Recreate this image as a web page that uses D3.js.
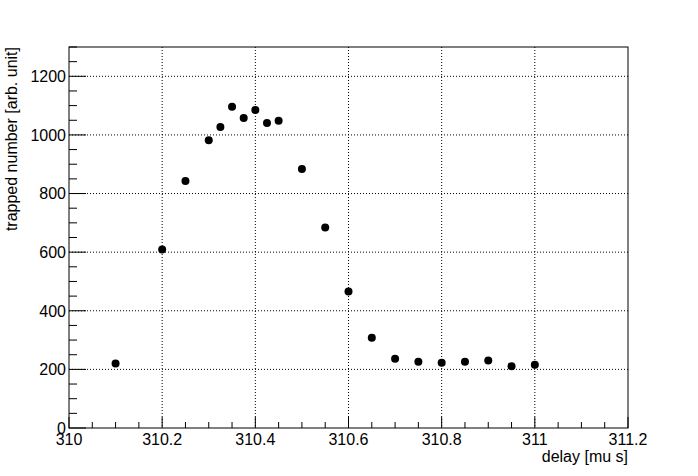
<!DOCTYPE html>
<html>
<head>
<meta charset="utf-8">
<script src="https://cdn.jsdelivr.net/npm/d3@7"></script>
<style>
  html, body { margin: 0; padding: 0; background: #fff; }
  svg text { font-family: "Liberation Sans", Arial, Helvetica, sans-serif; fill: #000; }
</style>
</head>
<body>
<div id="chart"></div>
<script>
// delay [mu s]
const delays = [310.1, 310.2, 310.25, 310.3, 310.325, 310.35, 310.375, 310.4, 310.425, 310.45,
  310.5, 310.55, 310.6, 310.65, 310.7, 310.75, 310.8, 310.85, 310.9, 310.95, 311.0]
// trapped number [arb. unit]
const trapped = [220, 609, 843, 982, 1027, 1096, 1058, 1085, 1041, 1048,
  884, 684, 466, 308, 236, 226, 223, 226, 230, 211, 216]

const xTicks = [310, 310.2, 310.4, 310.6, 310.8, 311, 311.2]
const yTicks = [0, 200, 400, 600, 800, 1000, 1200]

const width = 698
const height = 476
const margin = { top: 47, right: 70, bottom: 48, left: 69 }
const innerW = width - margin.left - margin.right
const innerH = height - margin.top - margin.bottom

const x = d3.scaleLinear().domain([310, 311.2]).range([0, innerW])
const y = d3.scaleLinear().domain([0, 1300]).range([innerH, 0])

const svg = d3.select("#chart")
  .append("svg")
  .attr("width", width)
  .attr("height", height)

const g = svg.append("g")
  .attr("transform", `translate(${margin.left},${margin.top})`)

// Grid
g.append("g")
  .selectAll("line")
  .data(xTicks.filter(d => d > 310 && d < 311.2))
  .join("line")
  .attr("x1", d => x(d)).attr("x2", d => x(d))
  .attr("y1", 0).attr("y2", innerH)
  .attr("stroke", "#000")
  .attr("stroke-dasharray", "1,2")

g.append("g")
  .selectAll("line")
  .data(yTicks.filter(d => d > 0))
  .join("line")
  .attr("x1", 0).attr("x2", innerW)
  .attr("y1", d => y(d)).attr("y2", d => y(d))
  .attr("stroke", "#000")
  .attr("stroke-dasharray", "1,2")

// Frame
g.append("rect")
  .attr("width", innerW)
  .attr("height", innerH)
  .attr("fill", "none")
  .attr("stroke", "#000")
  .attr("stroke-width", 1)

// X axis ticks (minor every 0.05, major every 0.2)
const xMinor = d3.range(0, 25).map(i => 310 + i * 0.05)
g.append("g")
  .selectAll("line")
  .data(xMinor)
  .join("line")
  .attr("x1", d => x(d)).attr("x2", d => x(d))
  .attr("y1", innerH)
  .attr("y2", (d, i) => innerH - (i % 4 === 0 ? 11 : 6))
  .attr("stroke", "#000")

g.append("g")
  .selectAll("text")
  .data(xTicks)
  .join("text")
  .attr("x", d => x(d))
  .attr("y", innerH + 17)
  .attr("text-anchor", "middle")
  .style("font-size", "16px")
  .text(d => d3.format("")(+d.toFixed(1)))

// Y axis ticks (minor every 50, major every 200)
const yMinor = d3.range(0, 27).map(i => i * 50)
g.append("g")
  .selectAll("line")
  .data(yMinor)
  .join("line")
  .attr("x1", 0)
  .attr("x2", (d, i) => (i % 4 === 0 ? 17 : 8))
  .attr("y1", d => y(d)).attr("y2", d => y(d))
  .attr("stroke", "#000")

g.append("g")
  .selectAll("text")
  .data(yTicks)
  .join("text")
  .attr("x", -3)
  .attr("y", d => y(d))
  .attr("dy", "0.36em")
  .attr("text-anchor", "end")
  .style("font-size", "16px")
  .text(d => d)

// Axis titles
g.append("text")
  .attr("x", innerW)
  .attr("y", innerH + 34)
  .attr("text-anchor", "end")
  .style("font-size", "16px")
  .text("delay [mu s]")

svg.append("text")
  .attr("transform", `translate(17,${margin.top}) rotate(-90)`)
  .attr("text-anchor", "end")
  .style("font-size", "16px")
  .text("trapped number [arb. unit]")

// Points
const points = delays.map((d, i) => ({ x: d, y: trapped[i] }))
g.append("g")
  .selectAll("circle")
  .data(points)
  .join("circle")
  .attr("cx", d => x(d.x))
  .attr("cy", d => y(d.y))
  .attr("r", 4)
  .attr("fill", "#000")
</script>
</body>
</html>
